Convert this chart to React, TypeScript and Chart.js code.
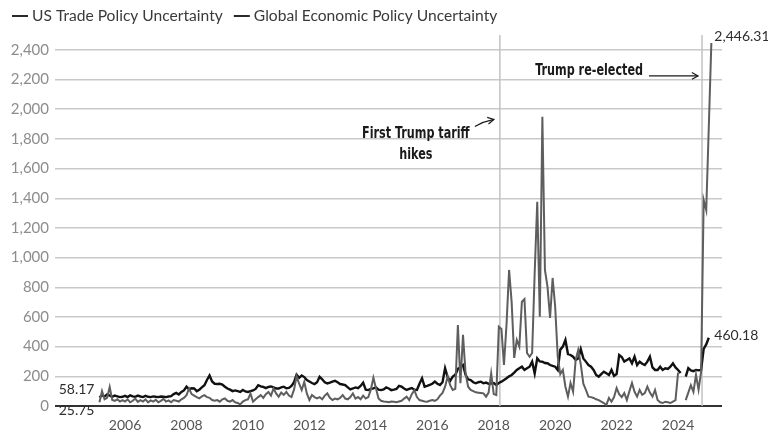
import React, { useEffect, useRef } from "react";
import { Chart, registerables } from "chart.js";

Chart.register(...registerables);

// Both series are monthly and start in March 2005
const FIRST_YEAR = 2005;
const FIRST_MONTH_INDEX = 2;

const yearTicks = [2006, 2008, 2010, 2012, 2014, 2016, 2018, 2020, 2022, 2024];
const valueTicks = [0, 200, 400, 600, 800, 1000, 1200, 1400, 1600, 1800, 2000, 2200, 2400];

const tradeLabel = "US Trade Policy Uncertainty";
const globalLabel = "Global Economic Policy Uncertainty";

// Mar 2005 – Feb 2025, null where no reading was published
const tradeUncertainty: (number | null)[] = [
  25.75, 100, 45, 55, 128, 40, 35, 45, 30, 40, // 2005
  30, 45, 25, 35, 50, 28, 40, 30, 45, 25, 38, 30, // 2006
  42, 25, 35, 48, 30, 38, 25, 40, 35, 30, 45, 55, // 2007
  73, 118, 80, 70, 60, 51, 65, 73, 60, 55, 40, 35, // 2008
  40, 29, 45, 51, 35, 29, 40, 25, 20, 11, 30, 40, // 2009
  45, 84, 29, 45, 60, 73, 55, 80, 95, 70, 118, 85, // 2010
  62, 90, 75, 95, 70, 60, 110, 200, 150, 107, 163, 85, // 2011
  40, 74, 60, 51, 60, 45, 70, 85, 55, 40, 50, 45, // 2012
  55, 74, 50, 45, 60, 85, 50, 60, 45, 70, 50, 60, // 2013
  110, 190, 120, 51, 35, 30, 29, 25, 30, 28, 25, 30, // 2014
  35, 50, 63, 40, 80, 107, 60, 40, 35, 30, 29, 35, // 2015
  40, 35, 45, 70, 88, 130, 198, 140, 108, 115, 546, 153, // 2016
  479, 220, 130, 108, 100, 92, 90, 88, 85, 63, 90, 220, // 2017
  80, 74, 535, 519, 276, 550, 917, 700, 324, 445, 400, 703, // 2018
  721, 357, 332, 357, 900, 1377, 602, 1950, 917, 804, 593, 863, // 2019
  669, 332, 215, 243, 130, 63, 155, 96, 310, 378, 280, 150, // 2020
  108, 63, 60, 54, 45, 40, 29, 20, 7, 54, 29, 60, // 2021
  121, 80, 60, 87, 40, 100, 155, 96, 63, 108, 75, 87, // 2022
  130, 90, 63, 108, 40, 25, 20, 29, 25, 20, 30, 40, // 2023
  225, null, null, 40, 90, 140, 95, 210, 110, 230, 1389, 1320, // 2024
  1880, 2446.31, // 2025
];

// Mar 2005 – Jan 2025
const globalUncertainty: (number | null)[] = [
  58.17, 72, 65, 78, 70, 62, 70, 65, 60, 62, // 2005
  68, 60, 72, 65, 62, 70, 64, 60, 68, 62, 60, 65, // 2006
  62, 60, 64, 62, 60, 64, 66, 80, 88, 78, 95, 105, // 2007
  130, 112, 120, 118, 100, 110, 125, 140, 175, 206, 165, 150, // 2008
  148, 150, 145, 130, 118, 110, 100, 105, 100, 95, 108, 98, // 2009
  95, 100, 105, 115, 140, 132, 128, 120, 128, 132, 125, 118, // 2010
  118, 125, 130, 120, 122, 135, 160, 211, 190, 205, 195, 175, // 2011
  165, 155, 148, 160, 197, 180, 160, 152, 158, 165, 170, 160, // 2012
  148, 145, 141, 125, 112, 118, 125, 120, 135, 157, 110, 107, // 2013
  115, 119, 125, 110, 107, 112, 125, 118, 107, 110, 115, 135, // 2014
  130, 118, 108, 115, 121, 110, 108, 150, 187, 130, 135, 142, // 2015
  150, 164, 150, 142, 160, 255, 195, 170, 198, 210, 250, 262, // 2016
  276, 210, 180, 175, 160, 153, 160, 164, 153, 158, 150, 152, // 2017
  155, 142, 155, 164, 175, 187, 200, 209, 225, 243, 255, 265, // 2018
  243, 255, 265, 299, 220, 321, 300, 298, 290, 288, 276, 270, // 2019
  265, 243, 380, 400, 445, 350, 344, 332, 310, 320, 384, 321, // 2020
  299, 276, 265, 243, 209, 198, 215, 231, 220, 209, 243, 203, // 2021
  215, 344, 330, 299, 310, 321, 288, 332, 276, 299, 285, 276, // 2022
  299, 332, 260, 243, 243, 265, 243, 254, 250, 265, 288, 260, // 2023
  243, 222, null, 198, 255, 240, 235, 243, 240, 243, 385, 415, // 2024
  460.18, // 2025
];

const tariffYear = 2018.2;
const electionYear = 2024.78;
const tariffNote = ["First Trump tariff", "hikes"];
const electionNote = "Trump re-elected";

const SANS = 'Lato, "Open Sans", sans-serif';
const NOTE = '"Liberation Sans Narrow", "DejaVu Sans Condensed", Roboto, sans-serif';
const NOTE_SQUEEZE = 0.83;

const toPoints = (values: (number | null)[]) =>
  values.map((v, i) => ({ x: FIRST_YEAR + (FIRST_MONTH_INDEX + i) / 12, y: v }));

const fmt = (v: number) =>
  v.toLocaleString("en-US", { minimumFractionDigits: 2, maximumFractionDigits: 2 });

const seriesKey = {
  id: "seriesKey",
  afterDraw(chart: any) {
    const ctx = chart.ctx;
    ctx.save();
    ctx.font = `15.6px ${SANS}`;
    ctx.textBaseline = "middle";
    let x = 12;
    const y = 16;
    chart.data.datasets.forEach((ds: any) => {
      ctx.strokeStyle = "#2a2a2a";
      ctx.lineWidth = 2;
      ctx.beginPath();
      ctx.moveTo(x, y);
      ctx.lineTo(x + 16, y);
      ctx.stroke();
      ctx.fillStyle = "#3a3a3a";
      ctx.fillText(ds.label, x + 20, y);
      x += 20 + ctx.measureText(ds.label).width + 11;
    });
    ctx.restore();
  },
};

const eventLines = {
  id: "eventLines",
  beforeDatasetsDraw(chart: any) {
    const { ctx, chartArea, scales } = chart;
    ctx.save();
    ctx.strokeStyle = "#c2c2c2";
    ctx.lineWidth = 1.5;
    [tariffYear, electionYear].forEach((t) => {
      const px = scales.x.getPixelForValue(t);
      ctx.beginPath();
      ctx.moveTo(px, chartArea.top - 3);
      ctx.lineTo(px, chartArea.bottom);
      ctx.stroke();
    });
    ctx.restore();
  },
};

const arrowHead = (ctx: any, x: number, y: number, angle: number) => {
  ctx.beginPath();
  ctx.moveTo(x - 7 * Math.cos(angle - 0.5), y - 7 * Math.sin(angle - 0.5));
  ctx.lineTo(x, y);
  ctx.lineTo(x - 7 * Math.cos(angle + 0.5), y - 7 * Math.sin(angle + 0.5));
  ctx.stroke();
};

const narrowText = (ctx: any, text: string, x: number, y: number) => {
  ctx.fillText(text, x, y, ctx.measureText(text).width * NOTE_SQUEEZE);
};

const notes = {
  id: "notes",
  afterDatasetsDraw(chart: any) {
    const { ctx, scales } = chart;
    const xs = scales.x;
    const ys = scales.y;
    ctx.save();

    // event notes
    ctx.fillStyle = "#1a1a1a";
    ctx.strokeStyle = "#1a1a1a";
    ctx.lineWidth = 1.2;
    ctx.font = `bold 15px ${NOTE}`;
    ctx.textBaseline = "middle";

    const tx = xs.getPixelForValue(tariffYear);
    const ty = ys.getPixelForValue(1830);
    ctx.textAlign = "center";
    narrowText(ctx, tariffNote[0], tx - 84, ty);
    narrowText(ctx, tariffNote[1], tx - 84, ty + 21);
    ctx.beginPath();
    ctx.moveTo(tx - 25, ty - 8);
    ctx.quadraticCurveTo(tx - 16, ty - 13, tx - 6, ty - 15);
    ctx.stroke();
    arrowHead(ctx, tx - 6, ty - 15, -0.2);

    const ex = xs.getPixelForValue(electionYear);
    const ey = ys.getPixelForValue(2258);
    ctx.textAlign = "right";
    narrowText(ctx, electionNote, ex - 59, ey);
    ctx.beginPath();
    ctx.moveTo(ex - 53, ey + 5);
    ctx.lineTo(ex - 4, ey + 5);
    ctx.stroke();
    arrowHead(ctx, ex - 4, ey + 5, 0);

    // first and last readings
    ctx.font = `14px ${SANS}`;
    ctx.fillStyle = "#2e2e2e";
    const ends = chart.data.datasets.map((ds: any) => {
      const pts = ds.data.filter((p: any) => p.y !== null);
      return { first: pts[0], last: pts[pts.length - 1] };
    });
    const endX = Math.max(...ends.map((e: any) => xs.getPixelForValue(e.last.x))) + 3;
    const startOffset = [8, -8];
    const endOffset = [-7, -2];
    ends.forEach((e: any, i: number) => {
      ctx.textAlign = "right";
      ctx.fillText(
        fmt(e.first.y),
        xs.getPixelForValue(e.first.x) - 5,
        ys.getPixelForValue(e.first.y) + startOffset[i]
      );
      ctx.textAlign = "left";
      ctx.fillText(fmt(e.last.y), endX, ys.getPixelForValue(e.last.y) + endOffset[i]);
    });
    ctx.restore();
  },
};

export default function App() {
  const canvasRef = useRef<HTMLCanvasElement | null>(null);

  useEffect(() => {
    if (!canvasRef.current) return;
    const chart = new Chart(canvasRef.current, {
      type: "line",
      data: {
        datasets: [
          {
            label: tradeLabel,
            data: toPoints(tradeUncertainty) as any,
            borderColor: "#5e5e5e",
            borderWidth: 2,
            pointRadius: 0,
            tension: 0,
            spanGaps: false,
          },
          {
            label: globalLabel,
            data: toPoints(globalUncertainty) as any,
            borderColor: "#111111",
            borderWidth: 2.4,
            pointRadius: 0,
            tension: 0,
            spanGaps: false,
          },
        ],
      },
      options: {
        responsive: false,
        animation: false,
        layout: { padding: { top: 38, right: 46, left: 0, bottom: 0 } },
        plugins: { legend: { display: false }, tooltip: { enabled: false } },
        scales: {
          x: {
            type: "linear",
            min: 2003.72,
            max: 2025.43,
            grid: { display: false, drawTicks: false },
            border: { display: false },
            afterBuildTicks: (s: any) => {
              s.ticks = yearTicks.map((v) => ({ value: v }));
            },
            afterFit: (s: any) => {
              s.height = 31;
            },
            ticks: {
              autoSkip: false,
              maxRotation: 0,
              padding: 11,
              color: "#555555",
              font: { family: SANS, size: 14 },
              callback: (v: any) => String(v),
            },
          },
          y: {
            min: 0,
            max: 2480,
            grid: {
              drawTicks: false,
              color: (c: any) => (c.tick && c.tick.value === 0 ? "#333333" : "#c9c9c9"),
              lineWidth: (c: any) => (c.tick && c.tick.value === 0 ? 2 : 1.5),
            },
            border: { display: false },
            afterBuildTicks: (s: any) => {
              s.ticks = valueTicks.map((v) => ({ value: v }));
            },
            afterFit: (s: any) => {
              s.width = 55;
            },
            ticks: {
              padding: 6,
              color: "#8d8d8d",
              font: { family: SANS, size: 15 },
              callback: (v: any) => Number(v).toLocaleString("en-US"),
            },
          },
        },
      },
      plugins: [eventLines, notes, seriesKey],
    });
    return () => chart.destroy();
  }, []);

  return (
    <div style={{ position: "absolute", left: 0, top: 0, width: 768, height: 437, background: "#fff" }}>
      <canvas ref={canvasRef} width={768} height={437} style={{ display: "block" }} />
    </div>
  );
}
